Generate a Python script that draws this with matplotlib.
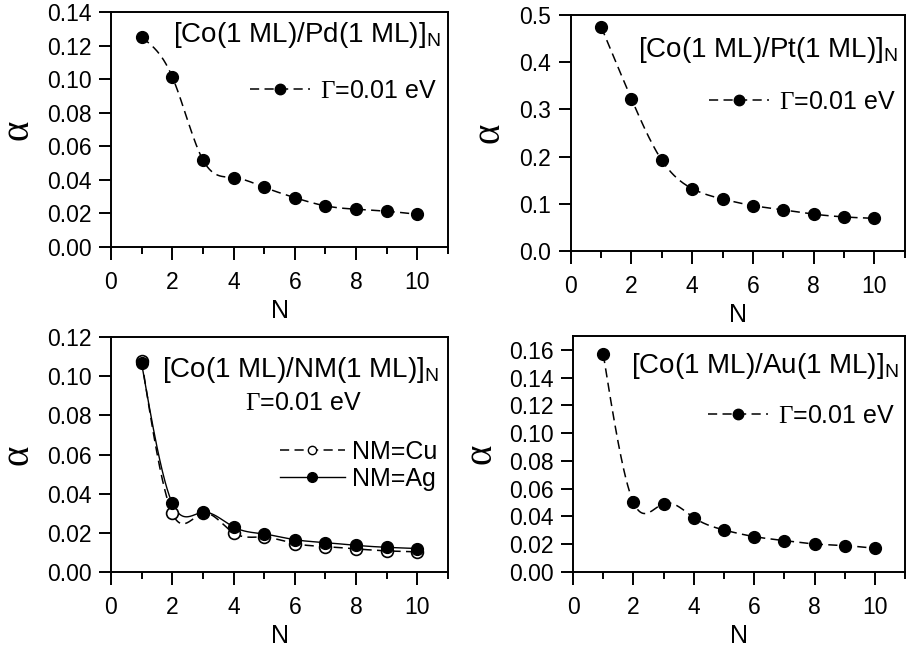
import matplotlib
matplotlib.use("Agg")
import matplotlib.pyplot as plt
import numpy as np
from matplotlib.lines import Line2D
from matplotlib.ticker import MultipleLocator, FormatStrFormatter

plt.rcParams["font.family"] = "Liberation Sans"
plt.rcParams["mathtext.fontset"] = "custom"
plt.rcParams["mathtext.rm"] = "Liberation Serif"
plt.rcParams["mathtext.sf"] = "Liberation Sans"

# values
N = [1, 2, 3, 4, 5, 6, 7, 8, 9, 10]
alpha_pd = [0.1249, 0.1014, 0.0519, 0.0414, 0.0356, 0.0294, 0.0245, 0.0225, 0.0213, 0.0195]
alpha_pt = [0.475, 0.322, 0.192, 0.132, 0.110, 0.096, 0.087, 0.078, 0.072, 0.069]
alpha_cu = [0.108, 0.030, 0.030, 0.0200, 0.0178, 0.0145, 0.0130, 0.0118, 0.0108, 0.0103]
alpha_ag = [0.1065, 0.0351, 0.0305, 0.0230, 0.0194, 0.0165, 0.0150, 0.0136, 0.0126, 0.0120]
alpha_au = [0.157, 0.0502, 0.0493, 0.0392, 0.0303, 0.0255, 0.0226, 0.0202, 0.0190, 0.0171]


def spline(x, y, n=400):
    # natural cubic spline through the points (smooth connection like Origin)
    x = np.asarray(x, float)
    y = np.asarray(y, float)
    h = np.diff(x)
    k = len(x)
    A = np.zeros((k, k))
    r = np.zeros(k)
    A[0, 0] = A[-1, -1] = 1
    for i in range(1, k - 1):
        A[i, i - 1] = h[i - 1]
        A[i, i] = 2 * (h[i - 1] + h[i])
        A[i, i + 1] = h[i]
        r[i] = 3 * ((y[i + 1] - y[i]) / h[i] - (y[i] - y[i - 1]) / h[i - 1])
    c = np.linalg.solve(A, r)
    b = (y[1:] - y[:-1]) / h - h * (2 * c[:-1] + c[1:]) / 3
    d = (c[1:] - c[:-1]) / (3 * h)
    xs = np.linspace(x[0], x[-1], n)
    idx = np.clip(np.searchsorted(x, xs) - 1, 0, k - 2)
    t = xs - x[idx]
    ys = y[idx] + b[idx] * t + c[idx] * t ** 2 + d[idx] * t ** 3
    return xs, ys


DASH = (0, (6, 3.5))
MS = 8.5
TICK_FS = 16.5
TITLE_FS = 20
LEG_FS = 18


def style(ax, ymax, ystep, fmt):
    ax.set_xlim(0, 11)
    ax.set_ylim(0, ymax)
    ax.xaxis.set_major_locator(MultipleLocator(2))
    ax.xaxis.set_minor_locator(MultipleLocator(1))
    ax.yaxis.set_major_locator(MultipleLocator(ystep))
    ax.yaxis.set_major_formatter(FormatStrFormatter(fmt))
    ax.tick_params(which="major", direction="out", length=9, width=1.4, labelsize=TICK_FS)
    ax.tick_params(axis="x", which="major", pad=8)
    ax.tick_params(axis="y", which="major", pad=5)
    ax.tick_params(which="minor", direction="out", length=5, width=1.4)
    for s in ax.spines.values():
        s.set_linewidth(1.4)
    ax.set_xlabel("N", fontsize=18)
    ax.xaxis.set_label_coords(0.5, -0.22)
    ax.set_ylabel("α", fontsize=28, family="Liberation Serif", rotation=90)


def one_series(ax, y, title, tx, ty, lx, ly):
    xs, ys = spline(N, y)
    ax.plot(xs, ys, color="black", lw=1.1, linestyle=DASH)
    ax.plot(N, y, "o", color="black", ms=MS)
    ax.text(tx, ty, title + r"$_\mathsf{N}$", transform=ax.transAxes, fontsize=TITLE_FS,
            va="baseline")
    h = Line2D([], [], color="black", lw=1.1, linestyle=DASH, marker="o", ms=MS - 1)
    ax.legend([h], [r"$\Gamma$=0.01 eV"], loc="center left", bbox_to_anchor=(lx, ly),
              frameon=False, fontsize=LEG_FS, handlelength=2.4, handletextpad=0.4,
              borderpad=0, borderaxespad=0)


fig = plt.figure(figsize=(9.06, 6.5), dpi=100)

ax1 = fig.add_axes([0.1225, 0.62, 0.372, 0.3615])
style(ax1, 0.14, 0.02, "%.2f")
one_series(ax1, alpha_pd, "[Co(1 ML)/Pd(1 ML)]", 0.184, 0.872, 0.412, 0.664)
ax1.yaxis.set_label_coords(-0.22, 0.5)

ax2 = fig.add_axes([0.630, 0.614, 0.3685, 0.363])
style(ax2, 0.5, 0.1, "%.1f")
one_series(ax2, alpha_pt, "[Co(1 ML)/Pt(1 ML)]", 0.2, 0.822, 0.413, 0.631)
ax2.yaxis.set_label_coords(-0.19, 0.5)

ax3 = fig.add_axes([0.1225, 0.12, 0.372, 0.3615])
style(ax3, 0.12, 0.02, "%.2f")
xs, ys = spline(N, alpha_cu)
ax3.plot(xs, ys, color="black", lw=1.1, linestyle=DASH)
xs, ys = spline(N, alpha_ag)
ax3.plot(xs, ys, color="black", lw=1.0)
ax3.plot(N, alpha_cu, "o", mfc="white", mec="black", mew=1.2, ms=MS)
ax3.plot(N, alpha_ag, "o", color="black", ms=MS)
ax3.text(0.151, 0.830, "[Co(1 ML)/NM(1 ML)]" + r"$_\mathsf{N}$", transform=ax3.transAxes,
         fontsize=TITLE_FS, va="baseline")
ax3.text(0.398, 0.719, r"$\Gamma$=0.01 eV", transform=ax3.transAxes, fontsize=LEG_FS,
         va="center")
h_cu = Line2D([], [], color="black", lw=1.1, linestyle=DASH, marker="o", mfc="white",
              mec="black", ms=6)
h_ag = Line2D([], [], color="black", lw=1.0, marker="o", ms=7)
ax3.legend([h_cu, h_ag], ["NM=Cu", "NM=Ag"], loc="center left", bbox_to_anchor=(0.501, 0.453),
           frameon=False, fontsize=LEG_FS, handlelength=2.6, handletextpad=0.3,
           labelspacing=0.12, borderpad=0, borderaxespad=0)
ax3.yaxis.set_label_coords(-0.22, 0.5)

ax4 = fig.add_axes([0.6325, 0.12, 0.3665, 0.3631])
style(ax4, 0.17, 0.02, "%.2f")
one_series(ax4, alpha_au, "[Co(1 ML)/Au(1 ML)]", 0.175, 0.843, 0.407, 0.661)
ax4.set_yticks(np.arange(0, 0.161, 0.02))
ax4.yaxis.set_label_coords(-0.22, 0.5)

plt.savefig("out.png", dpi=100)
